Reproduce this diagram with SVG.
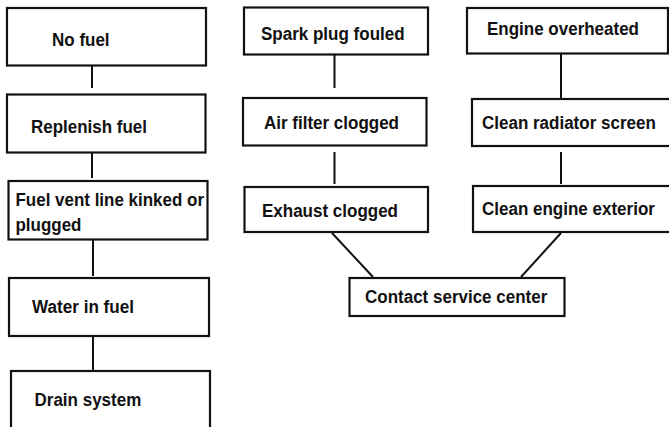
<svg xmlns="http://www.w3.org/2000/svg" width="669" height="427" viewBox="0 0 669 427">
<style>
.box{fill:#ffffff;stroke:#111111;stroke-width:2.2}
.lbl{font-family:"Liberation Sans",Arial,sans-serif;font-weight:bold;font-size:18px;fill:#111111}
.con{stroke:#111111;stroke-width:2;fill:none}
</style>
<rect width="669" height="427" fill="#ffffff"/>
<g id="connectors">
<line class="con" x1="92" y1="66" x2="92" y2="88"/>
<line class="con" x1="92" y1="153" x2="92" y2="178"/>
<line class="con" x1="93" y1="240" x2="93" y2="276"/>
<line class="con" x1="93" y1="337" x2="93" y2="371"/>
<line class="con" x1="334.5" y1="55" x2="334.5" y2="88"/>
<line class="con" x1="334.5" y1="152" x2="334.5" y2="184"/>
<line class="con" x1="561" y1="54" x2="561" y2="98"/>
<line class="con" x1="561" y1="152" x2="561" y2="184"/>
<line class="con" x1="332" y1="233" x2="373" y2="277"/>
<line class="con" x1="561" y1="233" x2="521" y2="277"/>
</g>
<g id="no-fuel"><rect class="box" x="7" y="8" width="199" height="57.5"/><text class="lbl" x="52" y="45.5" textLength="57.6" lengthAdjust="spacingAndGlyphs">No fuel</text></g>
<g id="replenish-fuel"><rect class="box" x="7" y="94.5" width="198.5" height="58"/><text class="lbl" x="31" y="133" textLength="116" lengthAdjust="spacingAndGlyphs">Replenish fuel</text></g>
<g id="fuel-vent"><rect class="box" x="8.5" y="181" width="199" height="58.5"/><text class="lbl" x="15.5" y="205.5" textLength="188.5" lengthAdjust="spacingAndGlyphs">Fuel vent line kinked or</text><text class="lbl" x="15.5" y="231" textLength="66" lengthAdjust="spacingAndGlyphs">plugged</text></g>
<g id="water-in-fuel"><rect class="box" x="9" y="278" width="200" height="58"/><text class="lbl" x="32" y="313" textLength="102" lengthAdjust="spacingAndGlyphs">Water in fuel</text></g>
<g id="drain-system"><rect class="box" x="11" y="371" width="199" height="70"/><text class="lbl" x="34.5" y="406" textLength="106.8" lengthAdjust="spacingAndGlyphs">Drain system</text></g>
<g id="spark-plug"><rect class="box" x="244" y="7.5" width="184" height="47"/><text class="lbl" x="261" y="40" textLength="143.6" lengthAdjust="spacingAndGlyphs">Spark plug fouled</text></g>
<g id="air-filter"><rect class="box" x="243" y="98" width="183.5" height="47.5"/><text class="lbl" x="264" y="128.5" textLength="135" lengthAdjust="spacingAndGlyphs">Air filter clogged</text></g>
<g id="exhaust"><rect class="box" x="244.5" y="187" width="183.5" height="45"/><text class="lbl" x="262" y="217" textLength="136" lengthAdjust="spacingAndGlyphs">Exhaust clogged</text></g>
<g id="engine-overheated"><rect class="box" x="467" y="8" width="201" height="45.5"/><text class="lbl" x="487" y="35" textLength="152" lengthAdjust="spacingAndGlyphs">Engine overheated</text></g>
<g id="clean-radiator"><rect class="box" x="472" y="99" width="210" height="47"/><text class="lbl" x="482" y="128.5" textLength="173.8" lengthAdjust="spacingAndGlyphs">Clean radiator screen</text></g>
<g id="clean-exterior"><rect class="box" x="473" y="186" width="210" height="46"/><text class="lbl" x="482" y="215" textLength="172.9" lengthAdjust="spacingAndGlyphs">Clean engine exterior</text></g>
<g id="contact-service"><rect class="box" x="349.5" y="278" width="215" height="38"/><text class="lbl" x="365" y="303" textLength="182.3" lengthAdjust="spacingAndGlyphs">Contact service center</text></g>
</svg>
